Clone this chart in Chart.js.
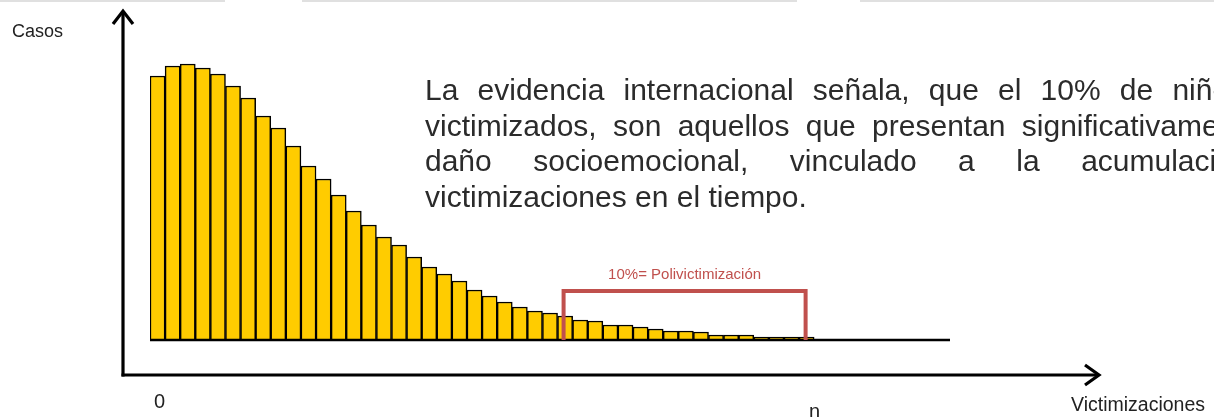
<!DOCTYPE html>
<html>
<head>
<meta charset="utf-8">
<script src="https://cdn.jsdelivr.net/npm/chart.js@4.4.1/dist/chart.umd.min.js"></script>
<style>
  body { margin: 0; background: #fff; }
  canvas { display: block; }
</style>
</head>
<body>
<canvas id="grafica" width="1214" height="417"></canvas>
<script>
  // casos por número de victimizaciones
  const casos = [264, 274, 276, 272, 266, 254, 242, 224, 212, 194, 174, 161, 145, 129, 115,
    103, 95, 83, 73, 66, 59, 50, 44, 38, 33, 29, 27, 24, 20, 19, 15, 15, 13, 11, 9, 9, 8,
    5, 5, 5, 3, 3, 3, 3, null, null, null, null, null, null, null, null, null];
  const categorias = casos.map((_, i) => String(i));
  const etiquetasEje = ['0', 'n'];
  const textoEjeY = 'Casos';
  const textoEjeX = 'Victimizaciones';
  const textoBracket = '10%= Polivictimización';
  const lineasTexto = [
    'La evidencia internacional señala, que el 10% de niños,',
    'victimizados, son aquellos que presentan significativamente',
    'daño socioemocional, vinculado a la acumulación de',
    'victimizaciones en el tiempo.'
  ];

  const rojo = 'rgb(192, 80, 77)';

  function linea(ctx, x1, y1, x2, y2) {
    ctx.beginPath();
    ctx.moveTo(x1, y1);
    ctx.lineTo(x2, y2);
    ctx.stroke();
  }

  const decoracion = {
    id: 'decoracion',
    afterDraw(chart) {
      const ctx = chart.ctx;
      const xs = chart.scales.x;
      const ys = chart.scales.y;
      const y0 = ys.getPixelForValue(0);
      const area = chart.chartArea;
      ctx.save();

      // pestañas grises arriba
      ctx.fillStyle = 'rgba(0,0,0,0.12)';
      ctx.fillRect(0, 0, 225, 2);
      ctx.fillRect(302, 0, 495, 2);
      ctx.fillRect(860, 0, 354, 2);

      // linea base
      ctx.strokeStyle = '#000';
      ctx.lineWidth = 2.5;
      linea(ctx, area.left, y0, area.right, y0);

      // ejes con flecha
      const ax = 123, ay = 375;
      ctx.lineWidth = 3.2;
      ctx.lineCap = 'butt';
      linea(ctx, ax, ay + 1.5, ax, 12);
      linea(ctx, ax - 1.5, ay, 1098, ay);
      ctx.lineJoin = 'miter';
      ctx.beginPath();
      ctx.moveTo(ax - 10, 24); ctx.lineTo(ax, 11); ctx.lineTo(ax + 10, 24);
      ctx.stroke();
      ctx.beginPath();
      ctx.moveTo(1085, ay - 10); ctx.lineTo(1099, ay); ctx.lineTo(1085, ay + 10);
      ctx.stroke();

      // textos de ejes
      ctx.fillStyle = '#222';
      ctx.textBaseline = 'alphabetic';
      ctx.font = '18px "Liberation Sans", Arial, sans-serif';
      ctx.fillText(textoEjeY, 12, 37);
      ctx.font = '19.5px "Liberation Sans", Arial, sans-serif';
      ctx.fillText(textoEjeX, 1071, 411);
      ctx.font = '20px "Liberation Sans", Arial, sans-serif';
      ctx.fillText(etiquetasEje[0], 154, 408);
      ctx.fillText(etiquetasEje[1], 809, 418);

      // corchete 10%
      const bx1 = xs.getPixelForValue(27) - xs.width / categorias.length * 0.1;
      const bx2 = xs.getPixelForValue(43) - 1;
      const by = 291;
      ctx.strokeStyle = rojo;
      ctx.lineWidth = 4;
      ctx.lineJoin = 'miter';
      ctx.beginPath();
      ctx.moveTo(bx1, y0);
      ctx.lineTo(bx1, by);
      ctx.lineTo(bx2, by);
      ctx.lineTo(bx2, y0);
      ctx.stroke();
      ctx.fillStyle = rojo;
      ctx.font = '15px "Liberation Sans", Arial, sans-serif';
      ctx.textAlign = 'center';
      ctx.fillText(textoBracket, (bx1 + bx2) / 2, 279);

      // texto justificado
      ctx.textAlign = 'left';
      ctx.fillStyle = '#2b2b2b';
      ctx.font = '30px "Liberation Sans", Arial, sans-serif';
      const espacios = [19.2, 16.3, 41.5, null];
      const bases = [100, 136, 171, 207];
      lineasTexto.forEach((t, i) => {
        if (espacios[i] === null) { ctx.fillText(t, 425, bases[i]); return; }
        let x = 425;
        t.split(' ').forEach(p => {
          ctx.fillText(p, x, bases[i]);
          x += ctx.measureText(p).width + espacios[i];
        });
      });
      ctx.restore();
    }
  };

  const ctx = document.getElementById('grafica').getContext('2d');
  const chart = new Chart(ctx, {
    type: 'bar',
    data: {
      labels: categorias,
      datasets: [{
        label: textoEjeY,
        data: casos,
        backgroundColor: 'rgb(255, 204, 0)',
        borderColor: '#000',
        borderWidth: 1.5,
        categoryPercentage: 1,
        barPercentage: 1
      }]
    },
    options: {
      responsive: false,
      animation: false,
      layout: { padding: { left: 150, right: 264, top: 20, bottom: 77 } },
      plugins: { legend: { display: false }, tooltip: { enabled: false } },
      scales: {
        x: { display: false },
        y: { display: false, min: 0, max: 320 }
      }
    },
    plugins: [decoracion]
  });
</script>
</body>
</html>
